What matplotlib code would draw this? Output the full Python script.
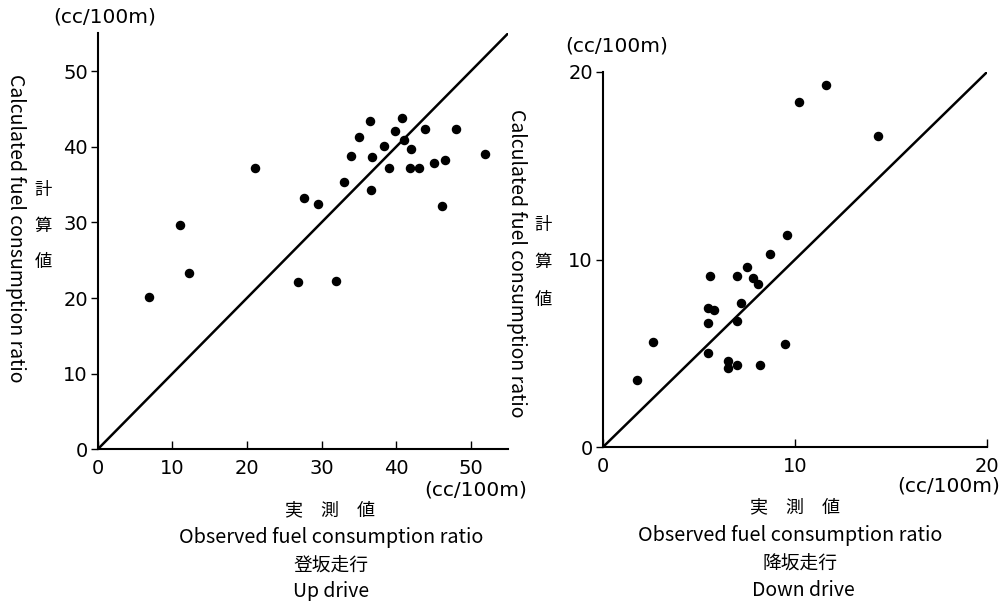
import matplotlib.pyplot as plt

plt.rcParams['font.family'] = ['Noto Sans CJK JP', 'DejaVu Sans']

# up drive (登坂走行): observed vs calculated, cc/100m
up_obs = [6.9, 11.1, 12.2, 21.1, 26.9, 27.6, 29.5, 32.0, 33.0, 34.0, 35.0, 36.5, 36.6, 36.8,
          38.4, 39.0, 39.9, 40.8, 41.0, 42.0, 41.9, 43.0, 43.9, 45.1, 46.1, 46.5, 48.0, 51.9]
up_calc = [20.1, 29.7, 23.3, 37.2, 22.1, 33.3, 32.4, 22.2, 35.3, 38.8, 41.3, 43.4, 34.3, 38.6,
           40.1, 37.2, 42.1, 43.8, 40.9, 39.7, 37.2, 37.2, 42.4, 37.9, 32.2, 38.2, 42.3, 39.0]

# down drive (降坂走行)
down_obs = [1.8, 2.6, 5.5, 5.5, 5.5, 5.8, 5.6, 6.5, 6.5, 7.0, 7.0, 7.0, 7.2, 7.5,
            7.8, 8.1, 8.2, 8.7, 9.5, 9.6, 10.2, 11.6, 14.3]
down_calc = [3.6, 5.6, 5.0, 6.6, 7.4, 7.3, 9.1, 4.6, 4.2, 4.4, 9.1, 6.7, 7.7, 9.6,
             9.0, 8.7, 4.4, 10.3, 5.5, 11.3, 18.4, 19.3, 16.6]

up_max = 55
down_max = 20

fig = plt.figure(figsize=(10.07, 6.01), dpi=100)
ax1 = fig.add_axes([0.097, 0.2524, 0.4075, 0.692])
ax2 = fig.add_axes([0.5985, 0.2557, 0.382, 0.625])


def style(ax, lim, ticks):
    ax.set_xlim(0, lim)
    ax.set_ylim(0, lim)
    ax.set_xticks(ticks)
    ax.set_yticks(ticks)
    for s in ['top', 'right']:
        ax.spines[s].set_visible(False)
    for s in ['left', 'bottom']:
        ax.spines[s].set_linewidth(1.5)
    ax.tick_params(axis='x', direction='in', length=6, width=1, pad=7, labelsize=14)
    ax.tick_params(axis='y', direction='out', length=5, width=1, pad=2, labelsize=14)
    for lab in ax.get_xticklabels() + ax.get_yticklabels():
        lab.set_fontfamily('DejaVu Sans')


ax1.plot([0, up_max], [0, up_max], color='black', lw=1.8)
ax1.scatter(up_obs, up_calc, s=34, color='black', zorder=3, clip_on=False)
style(ax1, up_max, [0, 10, 20, 30, 40, 50])

ax2.plot([0, down_max], [0, down_max], color='black', lw=1.8)
ax2.scatter(down_obs, down_calc, s=34, color='black', zorder=3, clip_on=False)
style(ax2, down_max, [0, 10, 20])


def px(x, y):
    return x / 1007, 1 - y / 601


unit = '(cc/100m)'
ylab = 'Calculated fuel consumption ratio'
xlab = 'Observed fuel consumption ratio'
dv = 'DejaVu Sans'

# left panel labels
fig.text(*px(105, 17), unit, fontsize=14.5, ha='center', va='center', fontfamily=dv)
fig.text(*px(15, 228), ylab, fontsize=14, rotation=270, ha='center', va='center')
for ch, y in zip('計算値', [190, 226, 262]):
    fig.text(*px(43, y), ch, fontsize=12.5, ha='center', va='center')
fig.text(*px(476, 490), unit, fontsize=14.5, ha='center', va='center', fontfamily=dv)
fig.text(*px(330, 510), '実　測　値', fontsize=13, ha='center', va='center')
fig.text(*px(331, 538), xlab, fontsize=14.3, ha='center', va='center')
fig.text(*px(331, 566), '登坂走行', fontsize=13.5, ha='center', va='center')
fig.text(*px(331, 592), 'Up drive', fontsize=14, ha='center', va='center')

# right panel labels
fig.text(*px(617, 46), unit, fontsize=14.5, ha='center', va='center', fontfamily=dv)
fig.text(*px(516, 263), ylab, fontsize=14, rotation=270, ha='center', va='center')
for ch, y in zip('計算値', [225, 262, 300]):
    fig.text(*px(543, y), ch, fontsize=12.5, ha='center', va='center')
fig.text(*px(949, 486), unit, fontsize=14.5, ha='center', va='center', fontfamily=dv)
fig.text(*px(795, 507), '実　測　値', fontsize=13, ha='center', va='center')
fig.text(*px(790, 535), xlab, fontsize=14.3, ha='center', va='center')
fig.text(*px(800, 564), '降坂走行', fontsize=13.5, ha='center', va='center')
fig.text(*px(803, 590), 'Down drive', fontsize=14, ha='center', va='center')

fig.savefig('out.png', dpi=100)
